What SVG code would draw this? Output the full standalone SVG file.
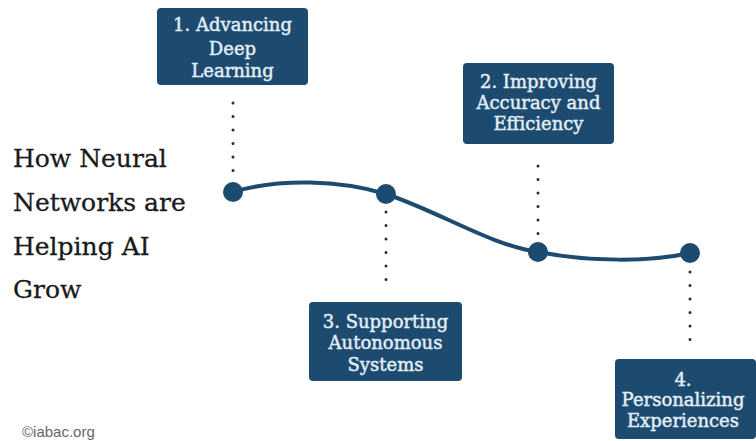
<svg xmlns="http://www.w3.org/2000/svg" width="756" height="441" viewBox="0 0 756 441">
<style>
.box{fill:#1d4b70;}
.bt{font-family:"DejaVu Serif","Liberation Serif",serif;font-size:18px;fill:#e3eff6;stroke:#e3eff6;stroke-width:0.45;text-anchor:middle;}
.title{font-family:"DejaVu Serif","Liberation Serif",serif;font-size:25px;fill:#1a1a1a;stroke:#1a1a1a;stroke-width:0.3;}
.dots{stroke:#2b2b2b;stroke-width:3;stroke-linecap:round;stroke-dasharray:0 13.5;fill:none;}
.pt{fill:#1d4b70;}
</style>
<rect width="756" height="441" fill="#ffffff"/>
<g id="title">
<text class="title" x="13" y="167">How Neural</text>
<text class="title" x="13" y="211">Networks are</text>
<text class="title" x="13" y="255">Helping AI</text>
<text class="title" x="13" y="298">Grow</text>
</g>
<g id="connectors">
<path d="M233,192 C280,178 340,180 386,194 C440,212 490,245 538,252 C590,262 650,262 690,253" fill="none" stroke="#1d4b70" stroke-width="4"/>
<line class="dots" x1="233" y1="103" x2="233" y2="180"/>
<line class="dots" x1="386" y1="212" x2="386" y2="289"/>
<line class="dots" x1="538" y1="166" x2="538" y2="243"/>
<line class="dots" x1="690" y1="272" x2="690" y2="349"/>
<circle class="pt" cx="233" cy="192" r="10"/>
<circle class="pt" cx="386" cy="194" r="10"/>
<circle class="pt" cx="538" cy="252" r="10"/>
<circle class="pt" cx="690" cy="253" r="10"/>
</g>
<g id="node1">
<rect class="box" x="157" y="8" width="151" height="77" rx="4"/>
<text class="bt" x="232.5" y="31">1. Advancing</text>
<text class="bt" x="232.5" y="55">Deep</text>
<text class="bt" x="232.5" y="77">Learning</text>
</g>
<g id="node2">
<rect class="box" x="463" y="63" width="151" height="81" rx="4"/>
<text class="bt" x="538.5" y="88">2. Improving</text>
<text class="bt" x="538.5" y="109">Accuracy and</text>
<text class="bt" x="538.5" y="130">Efficiency</text>
</g>
<g id="node3">
<rect class="box" x="309" y="302" width="153" height="79" rx="4"/>
<text class="bt" x="385.5" y="328">3. Supporting</text>
<text class="bt" x="385.5" y="349">Autonomous</text>
<text class="bt" x="385.5" y="371">Systems</text>
</g>
<g id="node4">
<rect class="box" x="615" y="359" width="141" height="80" rx="4"/>
<text class="bt" x="683" y="386">4.</text>
<text class="bt" x="683" y="406">Personalizing</text>
<text class="bt" x="683" y="427">Experiences</text>
</g>
<g id="credit">
<text x="22" y="437" font-family="'Liberation Sans',Arial,sans-serif" font-size="15" fill="#666666">©iabac.org</text>
</g>
</svg>
